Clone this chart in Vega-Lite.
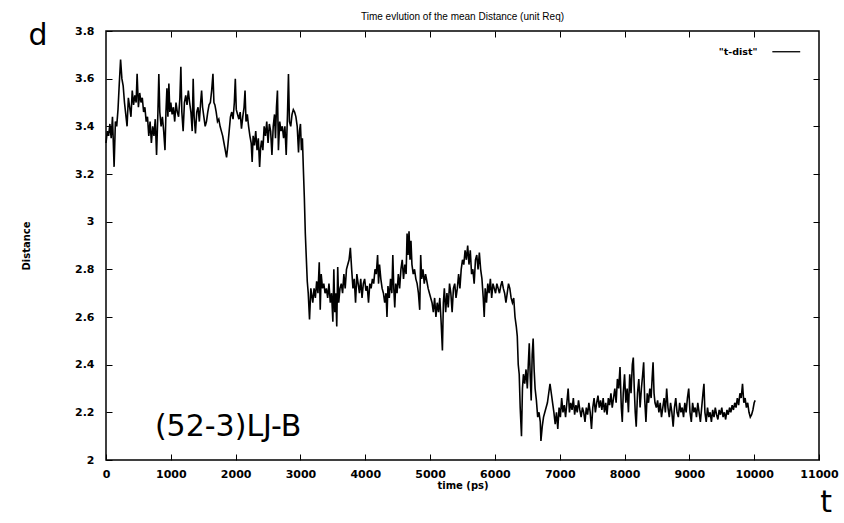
{
  "$schema": "https://vega.github.io/schema/vega-lite/v6.json",
  "width": 713,
  "height": 429,
  "autosize": "none",
  "padding": {"left": 106, "top": 31, "right": 25, "bottom": 63},
  "background": "white",
  "config": {
    "view": {"stroke": "black", "strokeWidth": 1.5},
    "font": "Liberation Sans"
  },
  "title": {
    "text": "Time evlution of the mean Distance (unit Req)",
    "fontSize": 10,
    "fontWeight": "normal",
    "font": "Liberation Sans",
    "color": "black",
    "offset": -1
  },
  "datasets": {
    "dist": [
      {"t":0,"d":3.33},{"t":20,"d":3.38},{"t":40,"d":3.36},{"t":60,"d":3.41},{"t":80,"d":3.35},{"t":100,"d":3.44},{"t":125,"d":3.23},{"t":145,"d":3.42},{"t":165,"d":3.40},{"t":185,"d":3.47},
      {"t":205,"d":3.58},{"t":225,"d":3.68},{"t":245,"d":3.60},{"t":265,"d":3.57},{"t":285,"d":3.50},{"t":305,"d":3.45},{"t":325,"d":3.40},{"t":345,"d":3.52},{"t":365,"d":3.48},{"t":385,"d":3.44},
      {"t":405,"d":3.55},{"t":425,"d":3.49},{"t":445,"d":3.53},{"t":465,"d":3.50},{"t":480,"d":3.62},{"t":500,"d":3.48},{"t":520,"d":3.54},{"t":540,"d":3.50},{"t":560,"d":3.52},{"t":580,"d":3.46},
      {"t":600,"d":3.48},{"t":620,"d":3.42},{"t":640,"d":3.44},{"t":660,"d":3.36},{"t":680,"d":3.42},{"t":700,"d":3.33},{"t":720,"d":3.40},{"t":740,"d":3.36},{"t":760,"d":3.43},{"t":780,"d":3.28},
      {"t":800,"d":3.45},{"t":815,"d":3.62},{"t":830,"d":3.46},{"t":850,"d":3.40},{"t":870,"d":3.44},{"t":890,"d":3.38},{"t":910,"d":3.30},{"t":925,"d":3.46},{"t":940,"d":3.56},{"t":955,"d":3.44},
      {"t":970,"d":3.58},{"t":985,"d":3.46},{"t":1000,"d":3.50},{"t":1020,"d":3.45},{"t":1040,"d":3.48},{"t":1060,"d":3.42},{"t":1080,"d":3.50},{"t":1100,"d":3.46},{"t":1120,"d":3.44},{"t":1140,"d":3.52},
      {"t":1155,"d":3.65},{"t":1170,"d":3.46},{"t":1190,"d":3.38},{"t":1210,"d":3.50},{"t":1230,"d":3.53},{"t":1250,"d":3.49},{"t":1270,"d":3.55},{"t":1290,"d":3.50},{"t":1310,"d":3.46},{"t":1330,"d":3.38},
      {"t":1345,"d":3.60},{"t":1360,"d":3.44},{"t":1380,"d":3.37},{"t":1400,"d":3.46},{"t":1420,"d":3.48},{"t":1440,"d":3.42},{"t":1460,"d":3.50},{"t":1475,"d":3.55},{"t":1490,"d":3.48},{"t":1510,"d":3.44},
      {"t":1530,"d":3.40},{"t":1550,"d":3.42},{"t":1570,"d":3.46},{"t":1590,"d":3.49},{"t":1610,"d":3.50},{"t":1630,"d":3.55},{"t":1650,"d":3.62},{"t":1665,"d":3.50},{"t":1680,"d":3.49},{"t":1700,"d":3.46},
      {"t":1720,"d":3.42},{"t":1740,"d":3.43},{"t":1760,"d":3.40},{"t":1780,"d":3.38},{"t":1800,"d":3.36},{"t":1820,"d":3.33},{"t":1840,"d":3.30},{"t":1860,"d":3.27},{"t":1880,"d":3.32},{"t":1900,"d":3.38},
      {"t":1920,"d":3.44},{"t":1940,"d":3.46},{"t":1960,"d":3.43},{"t":1980,"d":3.50},{"t":1995,"d":3.60},{"t":2010,"d":3.47},{"t":2030,"d":3.45},{"t":2050,"d":3.43},{"t":2070,"d":3.46},{"t":2090,"d":3.39},
      {"t":2110,"d":3.44},{"t":2130,"d":3.48},{"t":2145,"d":3.55},{"t":2160,"d":3.42},{"t":2180,"d":3.45},{"t":2200,"d":3.40},{"t":2220,"d":3.36},{"t":2240,"d":3.33},{"t":2255,"d":3.25},{"t":2270,"d":3.36},
      {"t":2290,"d":3.32},{"t":2310,"d":3.38},{"t":2330,"d":3.30},{"t":2350,"d":3.35},{"t":2370,"d":3.23},{"t":2385,"d":3.31},{"t":2400,"d":3.34},{"t":2420,"d":3.30},{"t":2440,"d":3.40},{"t":2460,"d":3.36},
      {"t":2480,"d":3.42},{"t":2500,"d":3.33},{"t":2520,"d":3.41},{"t":2540,"d":3.38},{"t":2560,"d":3.28},{"t":2580,"d":3.40},{"t":2600,"d":3.45},{"t":2615,"d":3.35},{"t":2630,"d":3.48},{"t":2645,"d":3.55},
      {"t":2660,"d":3.30},{"t":2680,"d":3.42},{"t":2700,"d":3.38},{"t":2720,"d":3.40},{"t":2740,"d":3.35},{"t":2760,"d":3.40},{"t":2780,"d":3.28},{"t":2800,"d":3.45},{"t":2815,"d":3.62},{"t":2830,"d":3.42},
      {"t":2850,"d":3.40},{"t":2870,"d":3.45},{"t":2890,"d":3.47},{"t":2910,"d":3.46},{"t":2930,"d":3.44},{"t":2950,"d":3.40},{"t":2970,"d":3.29},{"t":2985,"d":3.38},{"t":3000,"d":3.41},{"t":3015,"d":3.30},
      {"t":3030,"d":3.35},{"t":3045,"d":3.22},{"t":3060,"d":3.10},{"t":3075,"d":2.95},{"t":3090,"d":2.85},{"t":3105,"d":2.75},{"t":3120,"d":2.70},{"t":3140,"d":2.59},{"t":3160,"d":2.72},
      {"t":3170,"d":2.70},{"t":3190,"d":2.66},{"t":3210,"d":2.72},{"t":3230,"d":2.68},{"t":3250,"d":2.75},{"t":3270,"d":2.70},{"t":3290,"d":2.83},{"t":3305,"d":2.63},{"t":3320,"d":2.78},{"t":3340,"d":2.72},
      {"t":3360,"d":2.74},{"t":3380,"d":2.70},{"t":3400,"d":2.72},{"t":3420,"d":2.68},{"t":3440,"d":2.74},{"t":3460,"d":2.66},{"t":3480,"d":2.70},{"t":3500,"d":2.58},{"t":3515,"d":2.80},{"t":3530,"d":2.62},
      {"t":3545,"d":2.70},{"t":3560,"d":2.56},{"t":3575,"d":2.81},{"t":3590,"d":2.66},{"t":3610,"d":2.72},{"t":3630,"d":2.74},{"t":3650,"d":2.70},{"t":3670,"d":2.78},{"t":3690,"d":2.72},{"t":3710,"d":2.80},
      {"t":3730,"d":2.82},{"t":3750,"d":2.84},{"t":3770,"d":2.89},{"t":3790,"d":2.80},{"t":3810,"d":2.72},{"t":3830,"d":2.76},{"t":3850,"d":2.66},{"t":3870,"d":2.78},{"t":3890,"d":2.74},{"t":3910,"d":2.70},
      {"t":3930,"d":2.76},{"t":3950,"d":2.68},{"t":3970,"d":2.74},{"t":3990,"d":2.76},{"t":4010,"d":2.71},{"t":4030,"d":2.73},{"t":4050,"d":2.66},{"t":4070,"d":2.74},{"t":4090,"d":2.72},{"t":4110,"d":2.76},
      {"t":4130,"d":2.74},{"t":4150,"d":2.80},{"t":4170,"d":2.78},{"t":4190,"d":2.86},{"t":4205,"d":2.74},{"t":4220,"d":2.82},{"t":4240,"d":2.76},{"t":4260,"d":2.72},{"t":4280,"d":2.70},{"t":4300,"d":2.66},
      {"t":4320,"d":2.70},{"t":4335,"d":2.60},{"t":4350,"d":2.73},{"t":4370,"d":2.68},{"t":4390,"d":2.76},{"t":4410,"d":2.70},{"t":4425,"d":2.86},{"t":4440,"d":2.72},{"t":4455,"d":2.64},{"t":4470,"d":2.74},
      {"t":4490,"d":2.70},{"t":4510,"d":2.78},{"t":4530,"d":2.72},{"t":4550,"d":2.80},{"t":4570,"d":2.84},{"t":4590,"d":2.76},{"t":4610,"d":2.82},{"t":4630,"d":2.78},{"t":4645,"d":2.95},{"t":4660,"d":2.86},
      {"t":4675,"d":2.96},{"t":4690,"d":2.84},{"t":4705,"d":2.92},{"t":4720,"d":2.82},{"t":4740,"d":2.78},{"t":4760,"d":2.80},{"t":4780,"d":2.76},{"t":4800,"d":2.74},{"t":4820,"d":2.70},{"t":4840,"d":2.63},
      {"t":4855,"d":2.86},{"t":4870,"d":2.76},{"t":4890,"d":2.80},{"t":4910,"d":2.74},{"t":4930,"d":2.78},{"t":4950,"d":2.75},{"t":4970,"d":2.72},{"t":4990,"d":2.70},{"t":5010,"d":2.68},{"t":5030,"d":2.66},
      {"t":5050,"d":2.62},{"t":5070,"d":2.68},{"t":5090,"d":2.60},{"t":5110,"d":2.66},{"t":5130,"d":2.62},{"t":5150,"d":2.68},{"t":5170,"d":2.58},{"t":5190,"d":2.46},{"t":5205,"d":2.66},{"t":5220,"d":2.72},
      {"t":5240,"d":2.62},{"t":5260,"d":2.70},{"t":5280,"d":2.64},{"t":5300,"d":2.74},{"t":5320,"d":2.70},{"t":5340,"d":2.62},{"t":5360,"d":2.72},{"t":5380,"d":2.74},{"t":5400,"d":2.68},{"t":5420,"d":2.72},
      {"t":5440,"d":2.78},{"t":5460,"d":2.72},{"t":5480,"d":2.80},{"t":5500,"d":2.84},{"t":5520,"d":2.82},{"t":5540,"d":2.88},{"t":5560,"d":2.84},{"t":5580,"d":2.90},{"t":5600,"d":2.82},{"t":5620,"d":2.88},
      {"t":5640,"d":2.78},{"t":5660,"d":2.80},{"t":5680,"d":2.74},{"t":5700,"d":2.84},{"t":5720,"d":2.86},{"t":5740,"d":2.80},{"t":5760,"d":2.87},{"t":5780,"d":2.80},{"t":5800,"d":2.76},{"t":5820,"d":2.68},
      {"t":5835,"d":2.60},{"t":5850,"d":2.72},{"t":5870,"d":2.66},{"t":5890,"d":2.74},{"t":5910,"d":2.70},{"t":5930,"d":2.76},{"t":5950,"d":2.68},{"t":5970,"d":2.74},{"t":5990,"d":2.72},{"t":6010,"d":2.70},
      {"t":6030,"d":2.74},{"t":6050,"d":2.72},{"t":6070,"d":2.70},{"t":6090,"d":2.73},{"t":6110,"d":2.75},{"t":6130,"d":2.72},{"t":6150,"d":2.70},{"t":6170,"d":2.66},{"t":6190,"d":2.70},{"t":6210,"d":2.74},
      {"t":6230,"d":2.72},{"t":6250,"d":2.68},{"t":6270,"d":2.66},{"t":6290,"d":2.68},{"t":6310,"d":2.60},{"t":6330,"d":2.56},{"t":6345,"d":2.52},{"t":6360,"d":2.40},{"t":6375,"d":2.36},{"t":6390,"d":2.22},
      {"t":6410,"d":2.10},{"t":6425,"d":2.30},{"t":6440,"d":2.36},{"t":6460,"d":2.32},{"t":6480,"d":2.38},{"t":6500,"d":2.30},{"t":6515,"d":2.40},{"t":6530,"d":2.49},{"t":6545,"d":2.35},{"t":6560,"d":2.25},
      {"t":6575,"d":2.44},{"t":6590,"d":2.51},{"t":6605,"d":2.38},{"t":6620,"d":2.30},{"t":6640,"d":2.25},{"t":6660,"d":2.18},{"t":6680,"d":2.20},{"t":6700,"d":2.16},{"t":6710,"d":2.08},{"t":6730,"d":2.14},
      {"t":6750,"d":2.18},{"t":6770,"d":2.20},{"t":6790,"d":2.22},{"t":6810,"d":2.24},{"t":6830,"d":2.28},{"t":6850,"d":2.32},{"t":6870,"d":2.28},{"t":6890,"d":2.24},{"t":6910,"d":2.20},{"t":6930,"d":2.15},
      {"t":6950,"d":2.20},{"t":6970,"d":2.13},{"t":6990,"d":2.22},{"t":7010,"d":2.18},{"t":7030,"d":2.26},{"t":7050,"d":2.20},{"t":7070,"d":2.23},{"t":7090,"d":2.18},{"t":7110,"d":2.24},{"t":7130,"d":2.30},
      {"t":7150,"d":2.20},{"t":7170,"d":2.24},{"t":7190,"d":2.21},{"t":7210,"d":2.26},{"t":7230,"d":2.19},{"t":7250,"d":2.23},{"t":7270,"d":2.20},{"t":7290,"d":2.25},{"t":7310,"d":2.21},{"t":7330,"d":2.18},
      {"t":7350,"d":2.22},{"t":7370,"d":2.20},{"t":7390,"d":2.16},{"t":7410,"d":2.22},{"t":7430,"d":2.19},{"t":7450,"d":2.24},{"t":7470,"d":2.20},{"t":7490,"d":2.13},{"t":7510,"d":2.22},{"t":7530,"d":2.26},
      {"t":7550,"d":2.20},{"t":7570,"d":2.24},{"t":7590,"d":2.27},{"t":7610,"d":2.22},{"t":7630,"d":2.25},{"t":7650,"d":2.21},{"t":7670,"d":2.26},{"t":7690,"d":2.20},{"t":7710,"d":2.24},{"t":7730,"d":2.19},
      {"t":7750,"d":2.26},{"t":7770,"d":2.23},{"t":7790,"d":2.28},{"t":7810,"d":2.22},{"t":7830,"d":2.26},{"t":7850,"d":2.30},{"t":7870,"d":2.24},{"t":7890,"d":2.34},{"t":7910,"d":2.30},{"t":7930,"d":2.39},
      {"t":7950,"d":2.22},{"t":7965,"d":2.16},{"t":7980,"d":2.28},{"t":8000,"d":2.36},{"t":8020,"d":2.24},{"t":8040,"d":2.30},{"t":8060,"d":2.20},{"t":8080,"d":2.36},{"t":8100,"d":2.28},{"t":8120,"d":2.40},
      {"t":8135,"d":2.43},{"t":8150,"d":2.30},{"t":8165,"d":2.20},{"t":8180,"d":2.14},{"t":8200,"d":2.28},{"t":8220,"d":2.34},{"t":8240,"d":2.22},{"t":8260,"d":2.30},{"t":8280,"d":2.36},{"t":8295,"d":2.41},
      {"t":8310,"d":2.26},{"t":8330,"d":2.16},{"t":8350,"d":2.28},{"t":8370,"d":2.24},{"t":8390,"d":2.30},{"t":8410,"d":2.26},{"t":8425,"d":2.34},{"t":8440,"d":2.41},{"t":8455,"d":2.28},{"t":8470,"d":2.24},
      {"t":8490,"d":2.22},{"t":8510,"d":2.25},{"t":8530,"d":2.20},{"t":8550,"d":2.24},{"t":8570,"d":2.18},{"t":8590,"d":2.22},{"t":8610,"d":2.26},{"t":8630,"d":2.20},{"t":8650,"d":2.30},{"t":8670,"d":2.22},
      {"t":8690,"d":2.18},{"t":8710,"d":2.24},{"t":8730,"d":2.20},{"t":8750,"d":2.14},{"t":8770,"d":2.22},{"t":8790,"d":2.26},{"t":8810,"d":2.20},{"t":8830,"d":2.18},{"t":8850,"d":2.24},{"t":8870,"d":2.20},
      {"t":8890,"d":2.22},{"t":8910,"d":2.18},{"t":8930,"d":2.24},{"t":8950,"d":2.20},{"t":8970,"d":2.26},{"t":8990,"d":2.30},{"t":9010,"d":2.20},{"t":9030,"d":2.16},{"t":9050,"d":2.24},{"t":9070,"d":2.20},
      {"t":9090,"d":2.22},{"t":9110,"d":2.18},{"t":9130,"d":2.24},{"t":9150,"d":2.20},{"t":9170,"d":2.16},{"t":9190,"d":2.22},{"t":9210,"d":2.28},{"t":9225,"d":2.32},{"t":9240,"d":2.20},{"t":9260,"d":2.16},
      {"t":9280,"d":2.22},{"t":9300,"d":2.18},{"t":9320,"d":2.20},{"t":9340,"d":2.16},{"t":9360,"d":2.21},{"t":9380,"d":2.18},{"t":9400,"d":2.22},{"t":9420,"d":2.19},{"t":9440,"d":2.17},{"t":9460,"d":2.21},
      {"t":9480,"d":2.19},{"t":9500,"d":2.22},{"t":9520,"d":2.18},{"t":9540,"d":2.20},{"t":9560,"d":2.17},{"t":9580,"d":2.21},{"t":9600,"d":2.19},{"t":9620,"d":2.22},{"t":9640,"d":2.20},{"t":9660,"d":2.23},
      {"t":9680,"d":2.21},{"t":9700,"d":2.24},{"t":9720,"d":2.22},{"t":9740,"d":2.26},{"t":9760,"d":2.23},{"t":9780,"d":2.28},{"t":9800,"d":2.26},{"t":9820,"d":2.32},{"t":9840,"d":2.24},{"t":9860,"d":2.26},
      {"t":9880,"d":2.22},{"t":9900,"d":2.24},{"t":9920,"d":2.20},{"t":9940,"d":2.18},{"t":9960,"d":2.19},{"t":9980,"d":2.21},{"t":10000,"d":2.24},{"t":10015,"d":2.25}
    ],
    "key": [{"t1": 10280, "t2": 10710, "tl": 10050, "d": 3.713, "label": "\"t-dist\""}],
    "marks": [{"t": -1050, "d": 3.78, "label": "d"}, {"t": 11110, "d": 1.82, "label": "t"}],
    "note": [{"t": 1883, "d": 2.138, "label": "(52-3)LJ-B"}]
  },
  "layer": [
    {
      "data": {"name": "dist"},
      "mark": {"type": "line", "color": "black", "strokeWidth": 1.6, "interpolate": "linear"},
      "encoding": {
        "x": {
          "field": "t", "type": "quantitative",
          "scale": {"domain": [0, 11000], "nice": false, "zero": false},
          "axis": {
            "orient": "bottom",
            "values": [0,1000,2000,3000,4000,5000,6000,7000,8000,9000,10000,11000],
            "format": "d", "grid": false, "domain": false,
            "tickSize": -6, "tickColor": "black", "tickWidth": 1,
            "labelFont": "DejaVu Sans", "labelFontSize": 11, "labelFontWeight": "bold", "labelColor": "black",
            "labelPadding": 14, "labelFlush": false, "labelOverlap": false,
            "title": "time (ps)", "titleFont": "DejaVu Sans", "titleFontSize": 10, "titleFontWeight": "bold", "titleColor": "black", "titlePadding": 1
          }
        },
        "y": {
          "field": "d", "type": "quantitative",
          "scale": {"domain": [2, 3.8], "nice": false, "zero": false},
          "axis": {
            "orient": "left",
            "values": [2, 2.2, 2.4, 2.6, 2.8, 3, 3.2, 3.4, 3.6, 3.8],
            "format": ".1~f", "grid": false, "domain": false,
            "tickSize": -6, "tickColor": "black", "tickWidth": 1,
            "labelFont": "DejaVu Sans", "labelFontSize": 11, "labelFontWeight": "bold", "labelColor": "black",
            "labelPadding": 18, "labelFlush": false, "labelOverlap": false,
            "title": "Distance", "titleFont": "DejaVu Sans", "titleFontSize": 10, "titleFontWeight": "bold", "titleColor": "black", "titlePadding": 43
          }
        }
      }
    },
    {
      "data": {"name": "key"},
      "mark": {"type": "rule", "color": "black", "strokeWidth": 1.3},
      "encoding": {
        "x": {"field": "t1", "type": "quantitative", "axis": {"orient": "top", "values": [1000,2000,3000,4000,5000,6000,7000,8000,9000,10000], "labels": false, "domain": false, "grid": false, "tickSize": -6, "tickColor": "black", "title": null}},
        "x2": {"field": "t2"},
        "y": {"field": "d", "type": "quantitative", "axis": {"orient": "right", "values": [2.2, 2.4, 2.6, 2.8, 3, 3.2, 3.4, 3.6], "labels": false, "domain": false, "grid": false, "tickSize": -6, "tickColor": "black", "title": null}}
      }
    },
    {
      "data": {"name": "key"},
      "mark": {"type": "text", "align": "right", "baseline": "middle", "font": "DejaVu Sans", "fontSize": 9.5, "fontWeight": "bold", "color": "black"},
      "encoding": {
        "x": {"field": "tl", "type": "quantitative", "axis": null},
        "y": {"field": "d", "type": "quantitative", "axis": null},
        "text": {"field": "label"}
      }
    },
    {
      "data": {"name": "marks"},
      "mark": {"type": "text", "align": "center", "baseline": "middle", "font": "DejaVu Sans", "fontSize": 30, "fontWeight": "normal", "color": "black"},
      "encoding": {
        "x": {"field": "t", "type": "quantitative", "axis": null},
        "y": {"field": "d", "type": "quantitative", "axis": null},
        "text": {"field": "label"}
      }
    },
    {
      "data": {"name": "note"},
      "mark": {"type": "text", "align": "center", "baseline": "middle", "font": "DejaVu Sans", "fontSize": 30, "fontWeight": "normal", "color": "black"},
      "encoding": {
        "x": {"field": "t", "type": "quantitative", "axis": null},
        "y": {"field": "d", "type": "quantitative", "axis": null},
        "text": {"field": "label"}
      }
    }
  ],
  "resolve": {"axis": {"x": "independent", "y": "independent"}}
}
